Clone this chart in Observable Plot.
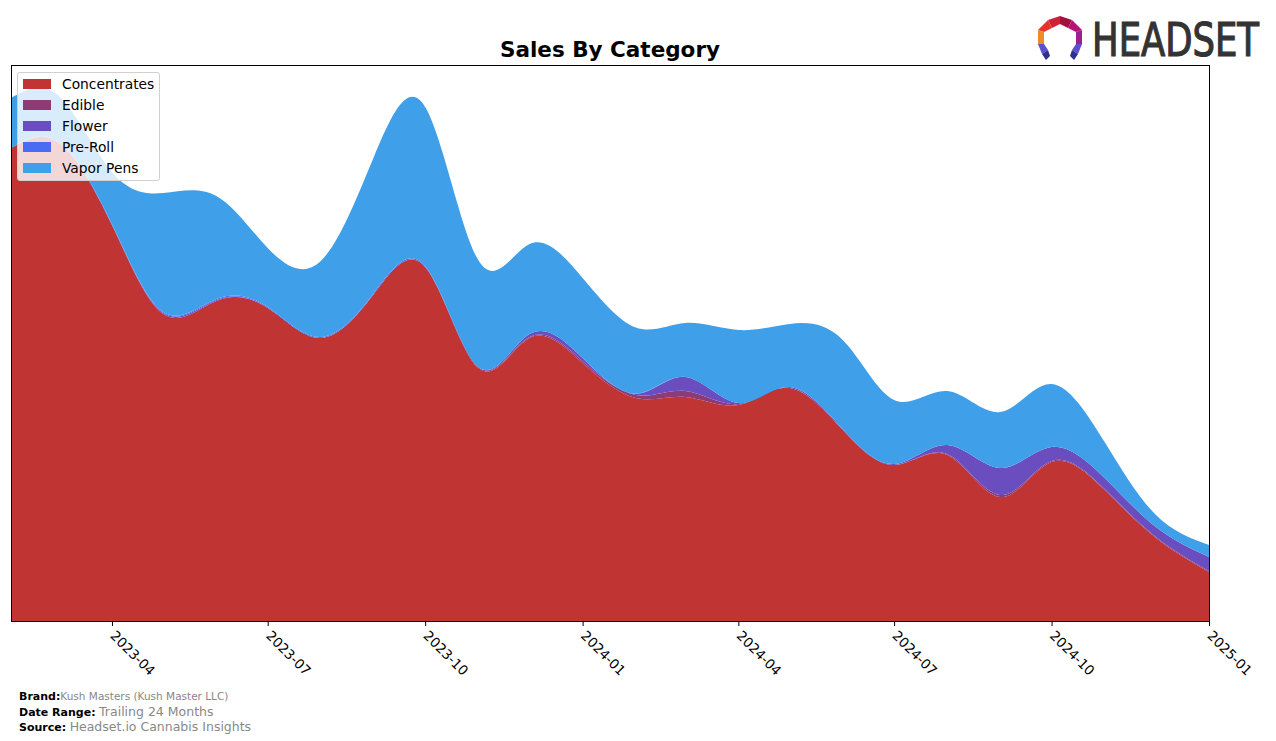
<!DOCTYPE html>
<html>
<head>
<meta charset="utf-8">
<script src="https://cdn.jsdelivr.net/npm/d3@7"></script>
<script src="https://cdn.jsdelivr.net/npm/@observablehq/plot@0.6"></script>
<style>
  body { margin: 0; background: #fff; font-family: "DejaVu Sans", sans-serif; }
  #wrap { position: relative; width: 1276px; height: 741px; overflow: hidden; }
  #title { position: absolute; left: 0; width: 1220px; top: 37px; line-height: 26px; text-align: center; font-weight: bold; font-size: 21.5px; color: #000; }
  #legend { position: absolute; left: 17px; top: 72px; width: 143px; height: 109px; background: rgba(255,255,255,0.8); border: 1px solid #d0d0d0; border-radius: 3px; box-sizing: border-box; }
  .li { position: absolute; left: 5px; height: 15px; font-size: 13.8px; line-height: 15px; color: #000; white-space: nowrap; }
  .sw { display: inline-block; width: 28px; height: 10px; vertical-align: top; margin-top: 2px; margin-right: 11px; }
  #footer { position: absolute; left: 19px; top: 689px; font-size: 11px; line-height: 14.5px; color: #000; }
  #footer b { font-weight: bold; }
  #footer .v { color: #888; }
  #logo { position: absolute; left: 1030px; top: 6px; }
</style>
</head>
<body>
<div id="wrap">
  <div id="chart"></div>
  <div id="title">Sales By Category</div>
  <div id="legend"></div>
  <div id="footer">
    <div><b>Brand:</b><span class="v" style="font-size:10.5px">Kush Masters (Kush Master LLC)</span></div>
    <div><b>Date Range:</b> <span class="v" style="font-size:12.5px">Trailing 24 Months</span></div>
    <div><b>Source:</b> <span class="v" style="font-size:12.5px">Headset.io Cannabis Insights</span></div>
  </div>
  <svg id="logo" width="240" height="62" viewBox="0 0 240 62">
    <polygon points="30,10 18,14 22,22 30,18" fill="#d0213a"/>
    <polygon points="30,10 42,14 38,22 30,18" fill="#a3123e"/>
    <polygon points="42,14 52,24 46,26 38,22" fill="#b5127a"/>
    <polygon points="18,14 8,24 14,26 22,22" fill="#e8332d"/>
    <polygon points="8,24 8,38 14,38 14,26" fill="#f08a24"/>
    <polygon points="52,24 52,38 46,38 46,26" fill="#9b1f8f"/>
    <polygon points="8,38 14,38 18,44 12,48" fill="#5a4fcf"/>
    <polygon points="12,48 18,44 20,50 16,54" fill="#2f2f8f"/>
    <polygon points="52,38 46,38 42,44 48,48" fill="#5a4fcf"/>
    <polygon points="48,48 42,44 40,50 44,54" fill="#2f2f8f"/>
    <g transform="translate(62,50) scale(1,1.45)">
      <text x="0" y="0" font-family="'Liberation Sans Narrow','DejaVu Sans Condensed','DejaVu Sans',sans-serif" font-size="32" fill="#333" stroke="#333" stroke-width="0.8" textLength="167" lengthAdjust="spacingAndGlyphs">HEADSET</text>
    </g>
  </svg>
</div>
<script>
const categories = ["Concentrates", "Edible", "Flower", "Pre-Roll", "Vapor Pens"];
const colors = ["#c03434", "#8e3a74", "#6a4ebf", "#4a6cf5", "#3f9fe8"];
const months = ["2023-02","2023-03","2023-04","2023-05","2023-06","2023-07","2023-08","2023-09","2023-10","2023-11","2023-12",
  "2024-01","2024-02","2024-03","2024-04","2024-05","2024-06","2024-07","2024-08","2024-09","2024-10","2024-11","2024-12","2025-01"];
const concentrates = [473, 478, 396, 307, 320, 313, 283, 327, 354, 253, 283, 258, 223, 224, 216, 233, 191, 156, 166, 124, 159, 131, 83, 49];
const edible       = [0, 0, 0, 0, 0, 0, 0, 0, 0, 1, 1, 2, 3, 6, 1, 0, 0, 0, 1, 2, 1, 1, 1, 1];
const flower       = [0, 0, 0, 1, 1, 0, 0, 0, 0, 0, 3, 3, 1, 14, 1, 1, 1, 1, 9, 27, 14, 11, 10, 14];
const preRoll      = [0, 1, 1, 1, 1, 1, 1, 1, 1, 0, 0, 0, 0.5, 0, 0, 0, 0, 0, 0, 0, 0, 0, 0, 0];
const vaporPens    = [50, 46, 52, 119, 103, 59, 76, 136, 159, 107, 90, 80, 66, 54, 73, 63, 89, 64, 54, 56, 63, 36, 12, 12];
const tickLabels = ["2023-04","2023-07","2023-10","2024-01","2024-04","2024-07","2024-10","2025-01"];

const series = [concentrates, edible, flower, preRoll, vaporPens];
const data = [];
categories.forEach((c, i) => {
  months.forEach((m, j) => {
    data.push({date: new Date(m + "-01T00:00:00Z"), category: c, value: series[i][j]});
  });
});
const parse = s => new Date(s + "-01T00:00:00Z");

const chart = Plot.plot({
  width: 1276,
  height: 741,
  marginLeft: 11,
  marginRight: 67,
  marginTop: 65,
  marginBottom: 120,
  style: {fontFamily: "DejaVu Sans, sans-serif", fontSize: "13.5px", background: "#fff", overflow: "visible"},
  x: {type: "utc", domain: [parse(months[0]), parse(months[months.length - 1])]},
  y: {domain: [0, 556], axis: null},
  color: {domain: categories, range: colors},
  marks: [
    Plot.areaY(data, {x: "date", y: "value", fill: "category", order: categories, curve: "natural"}),
    Plot.frame({stroke: "#000", strokeWidth: 1}),
    Plot.axisX({ticks: tickLabels.map(parse), tickFormat: d3.utcFormat("%Y-%m"), tickRotate: 45, tickSize: 5, tickPadding: 7, fontSize: 13.5, label: null, fill: "#000"})
  ]
});
document.getElementById("chart").appendChild(chart);

const lg = document.getElementById("legend");
categories.forEach((c, i) => {
  const d = document.createElement("div");
  d.className = "li";
  d.style.top = (4 + i * 21) + "px";
  d.innerHTML = `<span class="sw" style="background:${colors[i]}"></span>${c}`;
  lg.appendChild(d);
});
</script>
</body>
</html>
